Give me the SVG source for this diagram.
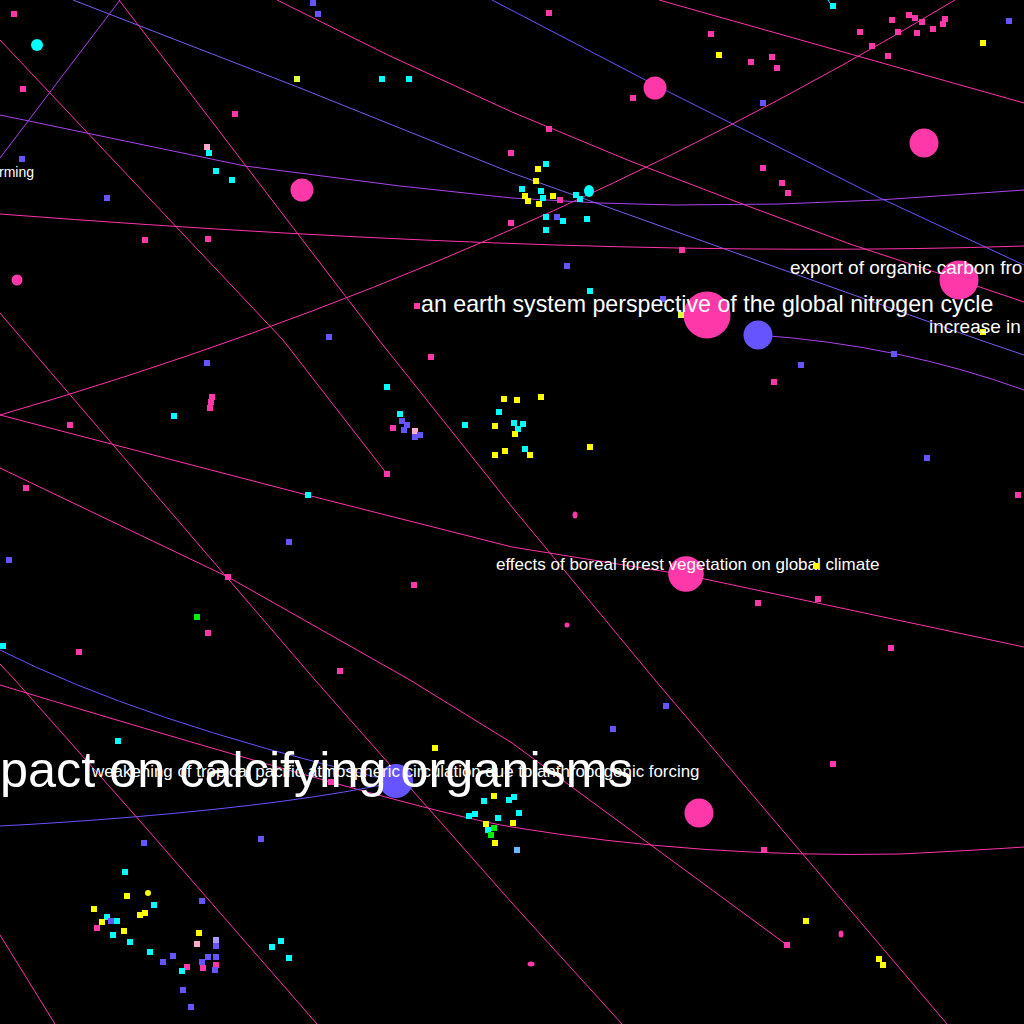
<svg xmlns="http://www.w3.org/2000/svg" width="1024" height="1024" viewBox="0 0 1024 1024">
<style>
.lp{fill:none;stroke:#ff33aa;stroke-width:1}
.lb{fill:none;stroke:#6655ff;stroke-width:1}
.lu{fill:none;stroke:#aa44ee;stroke-width:1}
.lv{fill:none;stroke:#7a5af0;stroke-width:1}
.lc{fill:none;stroke:#00ffff;stroke-width:1}
.P{fill:#ff38aa}.C{fill:#00ffff}.Y{fill:#ffff00}.B{fill:#6655ff}
.LP{fill:#ffaacc}.G{fill:#00ee00}.LB{fill:#66bbff}.LV{fill:#aa99ff}.YG{fill:#ddff44}
text{fill:#ffffff;font-family:"Liberation Sans",Arial,sans-serif}
</style>
<rect width="1024" height="1024" fill="#000000"/>
<g id="connectors">
<polyline class="lv" points="73,0 300,88 512,173 750,258 980,340 1024,355"/>
<polyline class="lb" points="492,0 655,85 880,198 1024,265"/>
<polyline class="lp" points="277,0 390,56 512,112 630,161 745,205 850,244 959,280 1024,302"/>
<polyline class="lp" points="659,0 1024,103"/>
<path class="lp" d="M0,415 Q510,267 955,0"/>
<path class="lp" d="M0,214 Q600,260 1024,246"/>
<polyline class="lu" points="0,115 245,166 400,186 512,198 600,203 674,205 780,204 879,200 1024,190"/>
<polyline class="lu" points="0,158 120,0"/>
<polyline class="lp" points="0,40 283,340 387,474"/>
<polyline class="lp" points="119,0 379,340 512,507 655,680 947,1024"/>
<polyline class="lp" points="0,468 228,577 410,680 512,743 787,945"/>
<polyline class="lp" points="0,313 23,340 315,680 512,903 622,1024"/>
<polyline class="lp" points="0,664 15,680 133,813 317,1024"/>
<polyline class="lp" points="0,935 55,1024"/>
<path class="lp" d="M0,685 Q420,812 512,827 Q700,858 900,854 Q980,850 1024,847"/>
<polyline class="lp" points="0,415 307,495 512,547 686,575 1024,647"/>
<path class="lb" d="M0,650 Q141,721 380,778"/>
<path class="lb" d="M396,782 Q300,803 133,817 Q60,823 0,826"/>
<path class="lu" d="M758,335 Q900,345 1024,390"/>
<path class="lc" d="M828,0 Q830,4 833,6"/>
</g>
<g id="nodes">
<g id="n1"><circle class="C" cx="37" cy="45" r="6"/></g>
<g id="n2"><circle class="P" cx="302" cy="190" r="11.5"/></g>
<g id="n3"><circle class="P" cx="655" cy="88" r="11.5"/></g>
<g id="n4"><circle class="P" cx="924" cy="143" r="14.5"/></g>
<g id="n5"><circle class="P" cx="959" cy="280" r="19.5"/></g>
<g id="n6"><circle class="P" cx="707" cy="315" r="23.5"/></g>
<g id="n7"><circle class="B" cx="758" cy="335" r="14.5"/></g>
<g id="n8"><circle class="P" cx="17" cy="280" r="5.5"/></g>
<g id="n9"><ellipse class="C" cx="589" cy="191" rx="5" ry="6"/></g>
<g id="n10"><circle class="P" cx="686" cy="574" r="17.8"/></g>
<g id="n11"><circle class="P" cx="699" cy="813" r="14.5"/></g>
<g id="n12"><circle class="B" cx="396" cy="781" r="17"/></g>
<g id="n13"><ellipse class="P" cx="575" cy="515" rx="2.5" ry="3.5"/></g>
<g id="n14"><circle class="P" cx="567" cy="625" r="2.5"/></g>
<g id="n15"><ellipse class="P" cx="841" cy="934" rx="2.5" ry="3.5"/></g>
<g id="n16"><ellipse class="P" cx="531" cy="964" rx="3.5" ry="2.5"/></g>
<g id="n17"><circle class="Y" cx="148" cy="893" r="3"/></g>
<g id="dots">
<rect class="B" x="310" y="0" width="6" height="6"/>
<rect class="B" x="315" y="11" width="6" height="6"/>
<rect class="P" x="546" y="10" width="6" height="6"/>
<rect class="C" x="830" y="3" width="6" height="6"/>
<rect class="P" x="857" y="29" width="6" height="6"/>
<rect class="P" x="889" y="17" width="6" height="6"/>
<rect class="P" x="906" y="12" width="6" height="6"/>
<rect class="P" x="912" y="15" width="6" height="6"/>
<rect class="P" x="919" y="19" width="6" height="6"/>
<rect class="P" x="942" y="16" width="6" height="6"/>
<rect class="P" x="940" y="21" width="6" height="6"/>
<rect class="P" x="930" y="26" width="6" height="6"/>
<rect class="P" x="914" y="30" width="6" height="6"/>
<rect class="P" x="895" y="29" width="6" height="6"/>
<rect class="P" x="869" y="43" width="6" height="6"/>
<rect class="P" x="885" y="53" width="6" height="6"/>
<rect class="B" x="1006" y="18" width="6" height="6"/>
<rect class="Y" x="980" y="40" width="6" height="6"/>
<rect class="P" x="708" y="31" width="6" height="6"/>
<rect class="Y" x="716" y="52" width="6" height="6"/>
<rect class="P" x="748" y="59" width="6" height="6"/>
<rect class="P" x="769" y="54" width="6" height="6"/>
<rect class="P" x="774" y="65" width="6" height="6"/>
<rect class="P" x="630" y="95" width="6" height="6"/>
<rect class="B" x="760" y="100" width="6" height="6"/>
<rect class="P" x="546" y="126" width="6" height="6"/>
<rect class="P" x="760" y="165" width="6" height="6"/>
<rect class="P" x="779" y="180" width="6" height="6"/>
<rect class="P" x="785" y="190" width="6" height="6"/>
<rect class="B" x="564" y="263" width="6" height="6"/>
<rect class="C" x="587" y="288" width="6" height="6"/>
<rect class="P" x="679" y="247" width="6" height="6"/>
<rect class="B" x="660" y="296" width="6" height="6"/>
<rect class="YG" x="678" y="312" width="6" height="6"/>
<rect class="Y" x="980" y="329" width="6" height="6"/>
<rect class="P" x="11" y="11" width="6" height="6"/>
<rect class="P" x="20" y="86" width="6" height="6"/>
<rect class="YG" x="294" y="76" width="6" height="6"/>
<rect class="C" x="379" y="76" width="6" height="6"/>
<rect class="C" x="406" y="76" width="6" height="6"/>
<rect class="P" x="232" y="111" width="6" height="6"/>
<rect class="LP" x="204" y="144" width="6" height="6"/>
<rect class="C" x="206" y="150" width="6" height="6"/>
<rect class="C" x="213" y="168" width="6" height="6"/>
<rect class="C" x="229" y="177" width="6" height="6"/>
<rect class="B" x="19" y="156" width="6" height="6"/>
<rect class="B" x="104" y="195" width="6" height="6"/>
<rect class="P" x="142" y="237" width="6" height="6"/>
<rect class="P" x="205" y="236" width="6" height="6"/>
<rect class="P" x="414" y="303" width="6" height="6"/>
<rect class="B" x="326" y="334" width="6" height="6"/>
<rect class="P" x="508" y="150" width="6" height="6"/>
<rect class="C" x="543" y="161" width="6" height="6"/>
<rect class="Y" x="535" y="166" width="6" height="6"/>
<rect class="Y" x="533" y="178" width="6" height="6"/>
<rect class="C" x="519" y="186" width="6" height="6"/>
<rect class="C" x="538" y="188" width="6" height="6"/>
<rect class="Y" x="522" y="193" width="6" height="6"/>
<rect class="Y" x="525" y="198" width="6" height="6"/>
<rect class="C" x="540" y="195" width="6" height="6"/>
<rect class="Y" x="536" y="201" width="6" height="6"/>
<rect class="Y" x="550" y="193" width="6" height="6"/>
<rect class="P" x="557" y="197" width="6" height="6"/>
<rect class="C" x="573" y="192" width="6" height="6"/>
<rect class="C" x="577" y="196" width="6" height="6"/>
<rect class="B" x="554" y="214" width="6" height="6"/>
<rect class="C" x="560" y="218" width="6" height="6"/>
<rect class="C" x="543" y="214" width="6" height="6"/>
<rect class="C" x="584" y="216" width="6" height="6"/>
<rect class="P" x="508" y="220" width="6" height="6"/>
<rect class="C" x="543" y="227" width="6" height="6"/>
<rect class="B" x="204" y="360" width="6" height="6"/>
<rect class="P" x="209" y="394" width="6" height="6"/>
<rect class="P" x="208" y="399" width="6" height="6"/>
<rect class="P" x="207" y="405" width="6" height="6"/>
<rect class="C" x="171" y="413" width="6" height="6"/>
<rect class="P" x="67" y="422" width="6" height="6"/>
<rect class="P" x="23" y="485" width="6" height="6"/>
<rect class="P" x="428" y="354" width="6" height="6"/>
<rect class="C" x="384" y="384" width="6" height="6"/>
<rect class="C" x="397" y="411" width="6" height="6"/>
<rect class="B" x="399" y="418" width="6" height="6"/>
<rect class="B" x="404" y="422" width="6" height="6"/>
<rect class="P" x="390" y="425" width="6" height="6"/>
<rect class="B" x="401" y="427" width="6" height="6"/>
<rect class="LP" x="412" y="428" width="6" height="6"/>
<rect class="B" x="412" y="434" width="6" height="6"/>
<rect class="B" x="417" y="432" width="6" height="6"/>
<rect class="P" x="384" y="471" width="6" height="6"/>
<rect class="C" x="305" y="492" width="6" height="6"/>
<rect class="B" x="286" y="539" width="6" height="6"/>
<rect class="B" x="6" y="557" width="6" height="6"/>
<rect class="P" x="225" y="574" width="6" height="6"/>
<rect class="G" x="194" y="614" width="6" height="6"/>
<rect class="P" x="205" y="630" width="6" height="6"/>
<rect class="P" x="76" y="649" width="6" height="6"/>
<rect class="P" x="411" y="582" width="6" height="6"/>
<rect class="P" x="337" y="668" width="6" height="6"/>
<rect class="C" x="0" y="643" width="6" height="6"/>
<rect class="C" x="462" y="422" width="6" height="6"/>
<rect class="Y" x="501" y="396" width="6" height="6"/>
<rect class="Y" x="514" y="397" width="6" height="6"/>
<rect class="Y" x="538" y="394" width="6" height="6"/>
<rect class="C" x="496" y="409" width="6" height="6"/>
<rect class="Y" x="492" y="423" width="6" height="6"/>
<rect class="C" x="511" y="420" width="6" height="6"/>
<rect class="C" x="520" y="421" width="6" height="6"/>
<rect class="C" x="515" y="426" width="6" height="6"/>
<rect class="Y" x="512" y="431" width="6" height="6"/>
<rect class="C" x="522" y="446" width="6" height="6"/>
<rect class="Y" x="492" y="452" width="6" height="6"/>
<rect class="Y" x="502" y="448" width="6" height="6"/>
<rect class="Y" x="527" y="452" width="6" height="6"/>
<rect class="Y" x="587" y="444" width="6" height="6"/>
<rect class="B" x="798" y="362" width="6" height="6"/>
<rect class="P" x="771" y="379" width="6" height="6"/>
<rect class="B" x="891" y="351" width="6" height="6"/>
<rect class="B" x="924" y="455" width="6" height="6"/>
<rect class="P" x="1015" y="492" width="6" height="6"/>
<rect class="P" x="755" y="600" width="6" height="6"/>
<rect class="P" x="815" y="596" width="6" height="6"/>
<rect class="P" x="888" y="645" width="6" height="6"/>
<rect class="C" x="115" y="738" width="6" height="6"/>
<rect class="P" x="328" y="779" width="6" height="6"/>
<rect class="Y" x="432" y="745" width="6" height="6"/>
<rect class="B" x="141" y="840" width="6" height="6"/>
<rect class="B" x="258" y="836" width="6" height="6"/>
<rect class="C" x="122" y="869" width="6" height="6"/>
<rect class="Y" x="124" y="893" width="6" height="6"/>
<rect class="C" x="151" y="902" width="6" height="6"/>
<rect class="Y" x="91" y="906" width="6" height="6"/>
<rect class="C" x="104" y="914" width="6" height="6"/>
<rect class="B" x="108" y="918" width="6" height="6"/>
<rect class="C" x="114" y="918" width="6" height="6"/>
<rect class="Y" x="99" y="919" width="6" height="6"/>
<rect class="Y" x="137" y="912" width="6" height="6"/>
<rect class="Y" x="142" y="910" width="6" height="6"/>
<rect class="P" x="94" y="925" width="6" height="6"/>
<rect class="Y" x="121" y="928" width="6" height="6"/>
<rect class="C" x="110" y="932" width="6" height="6"/>
<rect class="C" x="127" y="939" width="6" height="6"/>
<rect class="B" x="199" y="898" width="6" height="6"/>
<rect class="Y" x="196" y="930" width="6" height="6"/>
<rect class="LV" x="213" y="937" width="6" height="6"/>
<rect class="LP" x="194" y="941" width="6" height="6"/>
<rect class="B" x="213" y="943" width="6" height="6"/>
<rect class="C" x="147" y="949" width="6" height="6"/>
<rect class="B" x="170" y="953" width="6" height="6"/>
<rect class="B" x="160" y="959" width="6" height="6"/>
<rect class="B" x="205" y="954" width="6" height="6"/>
<rect class="B" x="213" y="954" width="6" height="6"/>
<rect class="B" x="199" y="959" width="6" height="6"/>
<rect class="P" x="184" y="964" width="6" height="6"/>
<rect class="P" x="200" y="965" width="6" height="6"/>
<rect class="P" x="213" y="962" width="6" height="6"/>
<rect class="B" x="212" y="967" width="6" height="6"/>
<rect class="C" x="179" y="968" width="6" height="6"/>
<rect class="B" x="180" y="987" width="6" height="6"/>
<rect class="B" x="188" y="1004" width="6" height="6"/>
<rect class="C" x="269" y="944" width="6" height="6"/>
<rect class="C" x="278" y="938" width="6" height="6"/>
<rect class="C" x="286" y="955" width="6" height="6"/>
<rect class="Y" x="491" y="793" width="6" height="6"/>
<rect class="C" x="481" y="798" width="6" height="6"/>
<rect class="C" x="511" y="794" width="6" height="6"/>
<rect class="C" x="506" y="797" width="6" height="6"/>
<rect class="C" x="466" y="813" width="6" height="6"/>
<rect class="C" x="472" y="811" width="6" height="6"/>
<rect class="C" x="495" y="815" width="6" height="6"/>
<rect class="C" x="516" y="810" width="6" height="6"/>
<rect class="Y" x="483" y="821" width="6" height="6"/>
<rect class="Y" x="510" y="820" width="6" height="6"/>
<rect class="G" x="491" y="825" width="6" height="6"/>
<rect class="C" x="485" y="827" width="6" height="6"/>
<rect class="G" x="488" y="832" width="6" height="6"/>
<rect class="Y" x="492" y="840" width="6" height="6"/>
<rect class="LB" x="514" y="847" width="6" height="6"/>
<rect class="B" x="663" y="703" width="6" height="6"/>
<rect class="B" x="610" y="726" width="6" height="6"/>
<rect class="P" x="830" y="761" width="6" height="6"/>
<rect class="P" x="761" y="847" width="6" height="6"/>
<rect class="P" x="784" y="942" width="6" height="6"/>
<rect class="Y" x="803" y="918" width="6" height="6"/>
<rect class="Y" x="876" y="956" width="6" height="6"/>
<rect class="Y" x="880" y="962" width="6" height="6"/>
</g>
</g>
<g id="labels">
<text x="-1" y="177" font-size="14">rming</text>
<text x="790" y="274" font-size="19">export of organic carbon fro</text>
<text x="421" y="312" font-size="23.2">an earth system perspective of the global nitrogen cycle</text>
<text x="929" y="333" font-size="19">increase in</text>
<text x="496" y="570" font-size="17">effects of boreal forest vegetation on global climate</text>
<rect class="Y" x="813" y="563" width="6" height="6"/>
<text x="92" y="777" font-size="16.9">weakening of tropical pacific atmospheric circulation due to anthropogenic forcing</text>
<text x="0" y="787" font-size="50.4">pact on calcifying organisms</text>
</g>
</svg>
